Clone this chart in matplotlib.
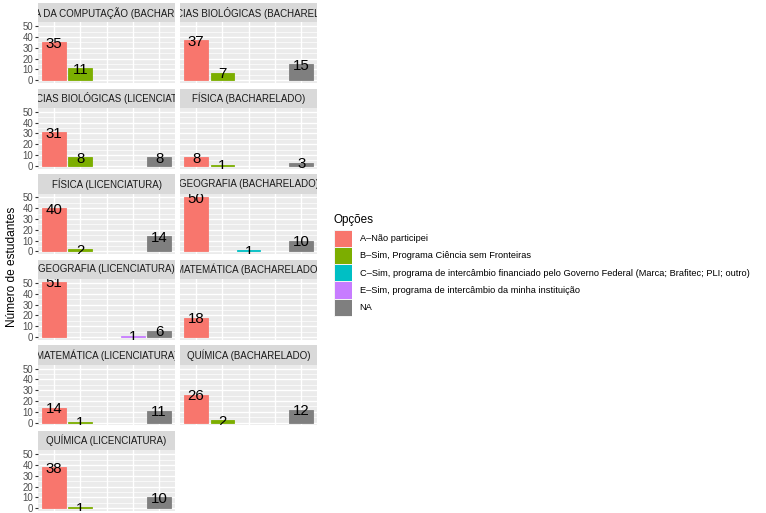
import matplotlib
matplotlib.use("Agg")
import matplotlib.pyplot as plt
from matplotlib.patches import Rectangle

plt.rcParams['font.family'] = ['Liberation Sans', 'DejaVu Sans']

# ---------------- data ----------------
courses = [
    "CIÊNCIA DA COMPUTAÇÃO (BACHARELADO)",
    "CIÊNCIAS BIOLÓGICAS (BACHARELADO)",
    "CIÊNCIAS BIOLÓGICAS (LICENCIATURA)",
    "FÍSICA (BACHARELADO)",
    "FÍSICA (LICENCIATURA)",
    "GEOGRAFIA (BACHARELADO)",
    "GEOGRAFIA (LICENCIATURA)",
    "MATEMÁTICA (BACHARELADO)",
    "MATEMÁTICA (LICENCIATURA)",
    "QUÍMICA (BACHARELADO)",
    "QUÍMICA (LICENCIATURA)",
]
options = ["A", "B", "C", "E", "NA"]
option_labels = [
    "A–Não participei",
    "B–Sim, Programa Ciência sem Fronteiras",
    "C–Sim, programa de intercâmbio financiado pelo Governo Federal (Marca; Brafitec; PLI; outro)",
    "E–Sim, programa de intercâmbio da minha instituição",
    "NA",
]
option_colors = ["#F8766D", "#7CAE00", "#00BFC4", "#C77CFF", "#7F7F7F"]

# counts per course, order A, B, C, E, NA (None = no bar)
counts_A  = [35, 37, 31, 8, 40, 50, 51, 18, 14, 26, 38]
counts_B  = [11, 7, 8, 1, 2, None, None, None, 1, 2, 1]
counts_C  = [None, None, None, None, None, 1, None, None, None, None, None]
counts_E  = [None, None, None, None, None, None, 1, None, None, None, None]
counts_NA = [None, 15, 8, 3, 14, 10, 6, None, 11, 12, 10]
series = [counts_A, counts_B, counts_C, counts_E, counts_NA]

y_ticks = [0, 10, 20, 30, 40, 50]
y_axis_title = "Número de estudantes"
legend_title = "Opções"

# ---------------- layout ----------------
W, H = 766, 513
fig = plt.figure(figsize=(W / 100, H / 100), dpi=100)


def box(x0, y0, x1, y1):
    return [x0 / W, 1 - y1 / H, (x1 - x0) / W, (y1 - y0) / H]


col_left = [38.2, 180.3]
panel_w = 136.6
row_pitch = 85.6
strip_top0, strip_bot0, panel_bot0 = 3.0, 22.4, 83.0

all_vals = [v for s in series for v in s if v is not None]
ymax = max(all_vals)
ylo, yhi = -0.05 * ymax, ymax * 1.05

for i, course in enumerate(courses):
    r, c = divmod(i, 2)
    x0 = col_left[c]
    x1 = x0 + panel_w
    st = strip_top0 + r * row_pitch
    sb = strip_bot0 + r * row_pitch
    pb = panel_bot0 + r * row_pitch

    # strip
    sax = fig.add_axes(box(x0, st, x1, sb))
    sax.set_facecolor("#D9D9D9")
    sax.set_xticks([]); sax.set_yticks([])
    for sp in sax.spines.values():
        sp.set_visible(False)
    sax.text(0.5, 0.5, course, ha="center", va="center", fontsize=7.0,
             color="#1A1A1A", transform=sax.transAxes, clip_on=True)

    # panel
    ax = fig.add_axes(box(x0, sb, x1, pb))
    ax.set_facecolor("#EBEBEB")
    for sp in ax.spines.values():
        sp.set_visible(False)
    ax.set_xlim(0.4, len(options) + 0.6)
    ax.set_ylim(ylo, yhi)
    ax.set_xticks(range(1, len(options) + 1))
    ax.set_yticks(y_ticks)
    ax.set_yticks([5, 15, 25, 35, 45], minor=True)
    ax.grid(True, which="major", color="white", linewidth=1.0)
    ax.grid(True, which="minor", axis="y", color="white", linewidth=0.5)
    ax.set_axisbelow(True)
    ax.tick_params(axis="x", which="both", length=0, labelbottom=False)
    ax.tick_params(axis="y", which="minor", length=0)
    if c == 0:
        ax.tick_params(axis="y", which="major", length=2.0, width=0.8,
                       color="#333333", pad=1.5, labelsize=6.9,
                       labelcolor="#4D4D4D")
    else:
        ax.tick_params(axis="y", which="major", length=0, labelleft=False)

    for k, s in enumerate(series):
        v = s[i]
        if v is None:
            continue
        ax.bar(k + 1, v, width=0.9, color=option_colors[k],
               edgecolor=option_colors[k], linewidth=0.6, zorder=2)
        ax.text(k + 1, v, str(v), ha="center", va="center_baseline",
                fontsize=10.8, color="black", zorder=3, clip_on=True)

# y axis title
fig.text(12 / W, 1 - 267 / H, y_axis_title, rotation=90, ha="center",
         va="center", fontsize=8.6, color="black")

# legend (drawn in pixel-like coordinates)
lax = fig.add_axes([0, 0, 1, 1], facecolor="none")
lax.set_xlim(0, W)
lax.set_ylim(H, 0)
lax.axis("off")
lax.text(334, 222.5, legend_title, ha="left", va="baseline", fontsize=8.4,
         color="black")
key_top, key_h, key_w, key_x = 230.0, 17.3, 18.0, 334.0
for k, (lab, col) in enumerate(zip(option_labels, option_colors)):
    y = key_top + k * key_h
    lax.add_patch(Rectangle((key_x, y), key_w, key_h, facecolor="#F2F2F2",
                            edgecolor="none"))
    lax.add_patch(Rectangle((key_x + 0.5, y + 0.5), key_w - 1, key_h - 1,
                            facecolor=col, edgecolor="none"))
    lax.text(359.5, y + key_h / 2, lab, ha="left", va="center", fontsize=6.65,
             color="black")

fig.savefig("out.png", dpi=100)
